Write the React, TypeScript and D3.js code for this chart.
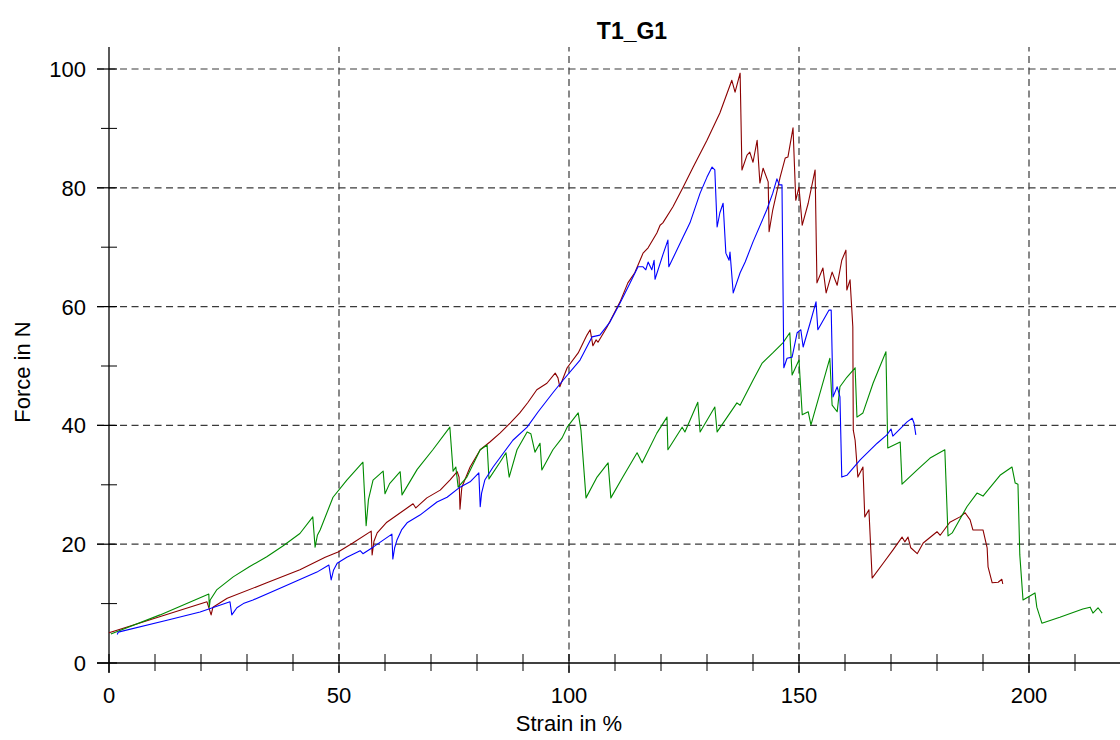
import React from "react";
import * as d3 from "d3";

// ---- data ----
const greenStrain = [0.4, 11.1, 21.7, 21.8, 22.0, 23.4, 27.0, 30.5, 34.3, 37.8, 41.5, 44.3, 44.8, 45.3, 45.9, 48.7, 51.7, 55.2, 55.9, 56.4, 57.4, 59.6, 60.0, 61.0, 63.3, 63.7, 67.0, 70.4, 74.1, 74.8, 75.4, 75.9, 77.8, 80.7, 82.2, 82.6, 85.0, 86.3, 87.0, 88.7, 90.9, 91.7, 92.6, 93.7, 94.1, 96.5, 98.5, 99.6, 102.0, 102.6, 103.7, 106.1, 108.5, 109.1, 111.7, 114.8, 115.9, 119.1, 121.3, 121.5, 124.6, 125.2, 128.0, 128.5, 131.7, 132.2, 136.5, 137.2, 140.0, 142.0, 144.3, 146.5, 148.0, 148.5, 150.0, 150.7, 152.0, 152.6, 156.7, 157.2, 158.3, 158.9, 160.4, 162.2, 162.6, 163.9, 166.1, 168.9, 169.3, 172.0, 172.4, 175.7, 178.5, 181.7, 182.4, 183.3, 186.5, 188.7, 190.0, 193.7, 196.3, 197.0, 197.6, 198.0, 198.7, 201.3, 201.7, 202.8, 206.7, 211.7, 213.3, 213.9, 215.0, 215.9];
const greenForce = [4.9, 8.1, 11.6, 9.4, 10.6, 12.3, 14.5, 16.2, 17.9, 19.7, 21.8, 24.6, 19.5, 21.5, 22.4, 27.9, 30.8, 33.8, 23.1, 27.5, 30.8, 32.3, 28.5, 30.2, 32.2, 28.3, 32.6, 35.9, 39.7, 32.3, 33.0, 29.6, 31.3, 35.9, 36.7, 31.0, 33.8, 35.4, 31.3, 35.9, 38.9, 38.6, 35.5, 37.0, 32.5, 35.9, 37.9, 39.7, 42.1, 39.2, 27.8, 31.3, 33.7, 27.8, 31.3, 35.4, 33.7, 38.7, 41.4, 35.9, 39.7, 38.9, 43.9, 38.9, 43.1, 38.9, 43.8, 43.4, 47.6, 50.5, 52.2, 53.9, 55.6, 48.5, 51.0, 41.8, 42.3, 40.1, 51.3, 43.4, 42.3, 46.5, 48.1, 49.7, 41.4, 42.1, 47.1, 52.4, 36.2, 37.2, 30.1, 32.5, 34.5, 35.9, 21.4, 21.9, 26.3, 28.6, 28.1, 31.6, 33.0, 30.3, 30.1, 18.2, 10.6, 11.8, 9.4, 6.7, 7.7, 9.1, 9.4, 8.4, 9.3, 8.4];

const redStrain = [0.0, 21.3, 22.2, 22.6, 25.7, 34.3, 41.5, 47.0, 49.8, 53.0, 57.0, 57.2, 57.6, 58.3, 60.4, 64.8, 66.1, 66.7, 69.1, 72.0, 74.1, 75.7, 76.1, 76.3, 76.7, 78.5, 80.7, 82.8, 85.0, 87.2, 89.3, 91.1, 93.0, 95.2, 97.0, 97.6, 98.0, 99.6, 102.0, 103.9, 104.6, 105.2, 105.9, 106.3, 108.3, 111.1, 112.8, 114.3, 116.1, 117.2, 119.1, 119.8, 120.4, 122.6, 124.8, 127.0, 130.0, 132.8, 135.4, 136.1, 137.2, 137.6, 138.7, 139.3, 140.0, 140.9, 141.5, 142.2, 143.3, 143.5, 144.3, 145.9, 147.0, 147.6, 148.7, 149.3, 150.0, 150.7, 152.0, 153.5, 153.9, 155.2, 155.9, 157.2, 158.3, 159.3, 160.2, 160.4, 161.1, 161.7, 161.8, 162.2, 162.8, 163.9, 164.3, 165.2, 165.9, 168.3, 170.4, 172.4, 173.0, 173.7, 174.3, 175.7, 177.0, 180.0, 180.7, 182.8, 185.0, 186.1, 187.2, 187.8, 190.0, 190.9, 191.1, 192.0, 193.3, 194.1, 194.3];
const redForce = [5.1, 10.3, 8.1, 9.4, 10.9, 13.5, 15.7, 17.8, 18.7, 20.2, 22.2, 18.2, 20.5, 21.9, 23.7, 26.1, 26.8, 26.1, 27.8, 29.1, 30.8, 32.2, 31.3, 25.9, 29.6, 33.0, 35.9, 37.2, 38.7, 40.4, 42.1, 43.9, 46.0, 47.1, 48.8, 48.0, 46.5, 49.7, 52.2, 55.2, 56.1, 53.4, 54.4, 54.0, 56.6, 60.8, 64.0, 65.7, 69.0, 69.9, 72.4, 73.7, 74.1, 76.8, 80.1, 83.5, 88.0, 92.6, 98.1, 96.1, 99.3, 83.0, 85.5, 86.0, 84.3, 88.0, 80.8, 83.3, 81.0, 72.6, 76.3, 81.8, 85.0, 85.2, 90.1, 77.9, 80.1, 73.7, 77.4, 83.0, 64.0, 66.5, 62.3, 65.8, 63.6, 67.8, 69.5, 62.8, 64.5, 56.6, 39.2, 37.5, 31.3, 33.0, 24.6, 25.8, 14.3, 16.8, 19.0, 21.2, 20.4, 21.2, 19.4, 18.4, 20.2, 22.1, 21.5, 23.7, 24.6, 25.3, 24.1, 22.4, 22.4, 19.4, 16.2, 13.5, 13.6, 14.1, 13.3];

const blueStrain = [1.8, 2.0, 12.6, 19.8, 26.3, 26.7, 27.8, 29.2, 31.3, 37.8, 45.2, 47.8, 48.3, 48.8, 49.6, 51.7, 54.6, 55.2, 57.4, 61.5, 61.7, 62.1, 62.6, 63.6, 64.8, 67.6, 71.3, 73.5, 76.3, 78.5, 80.4, 80.7, 81.0, 81.7, 83.5, 87.8, 90.9, 93.3, 96.5, 98.7, 102.4, 105.0, 106.7, 108.9, 111.1, 113.3, 115.0, 116.1, 116.7, 117.2, 118.0, 118.5, 118.7, 120.4, 121.5, 121.7, 124.8, 126.3, 128.5, 130.0, 131.1, 131.7, 132.2, 132.8, 133.5, 134.1, 134.8, 135.0, 135.7, 137.2, 138.3, 140.0, 143.0, 144.3, 145.2, 145.7, 146.3, 146.7, 147.4, 148.5, 149.6, 150.4, 150.9, 152.4, 153.7, 154.1, 156.5, 157.0, 157.4, 158.3, 158.9, 159.3, 160.4, 163.3, 167.0, 169.1, 170.0, 170.4, 173.5, 174.6, 175.0, 175.4];
const blueForce = [4.8, 5.2, 7.2, 8.6, 10.3, 8.1, 9.3, 10.0, 10.6, 12.8, 15.3, 16.5, 14.0, 15.6, 16.8, 17.8, 18.9, 18.4, 19.5, 21.7, 17.5, 19.4, 20.7, 22.4, 23.6, 24.9, 27.1, 27.9, 29.6, 30.5, 32.0, 26.3, 28.6, 30.8, 33.0, 37.5, 39.7, 42.3, 45.5, 47.6, 51.0, 54.9, 55.2, 57.4, 60.6, 64.0, 66.7, 66.7, 66.2, 67.5, 66.2, 67.8, 64.6, 68.7, 71.2, 66.7, 71.7, 74.1, 79.1, 81.8, 83.5, 83.0, 73.4, 75.8, 77.4, 69.0, 67.8, 69.2, 62.3, 65.7, 67.5, 70.9, 76.3, 79.1, 81.5, 80.5, 80.5, 49.7, 51.3, 51.5, 55.6, 56.1, 53.2, 57.2, 60.8, 56.1, 59.4, 59.4, 44.8, 46.5, 44.8, 31.3, 31.6, 34.2, 37.0, 38.4, 39.4, 38.2, 40.6, 41.2, 40.4, 38.4];

const xTicks = [0, 50, 100, 150, 200];
const xMinorTicks = [10, 20, 30, 40, 60, 70, 80, 90, 110, 120, 130, 140, 160, 170, 180, 190, 210];
const yTicks = [0, 20, 40, 60, 80, 100];
const yMinorTicks = [10, 30, 50, 70, 90];
const xGrid = [50, 100, 150, 200];
const yGrid = [20, 40, 60, 80, 100];

const series = [
  { name: "red", strain: redStrain, force: redForce, color: "#8B0000" },
  { name: "green", strain: greenStrain, force: greenForce, color: "#008B00" },
  { name: "blue", strain: blueStrain, force: blueForce, color: "#0000FF" },
];

const W = 1120;
const H = 740;
const FONT = "'Liberation Sans', Arial, Helvetica, sans-serif";

export default function App() {
  const x = d3.scaleLinear().domain([0, 200]).range([109, 1029]);
  const y = d3.scaleLinear().domain([0, 100]).range([663, 69]);
  const xLo = -2.6, xHi = 220;
  const yLo = -1.6, yHi = 103.7;

  const line = d3
    .line<[number, number]>()
    .x((d) => x(d[0]))
    .y((d) => y(d[1]));

  const gridStyle = { stroke: "#3a3a3a", strokeWidth: 1.2, strokeDasharray: "7,4.5" };

  return (
    <svg
      width={W}
      height={H}
      style={{ position: "absolute", left: 0, top: 0, background: "#fff" }}
      fontFamily={FONT}
    >
      <rect x={0} y={0} width={W} height={H} fill="#fff" />
      {/* grid */}
      {xGrid.map((v) => (
        <line key={"gx" + v} x1={x(v)} x2={x(v)} y1={y(yLo)} y2={y(yHi)} {...gridStyle} />
      ))}
      {yGrid.map((v) => (
        <line key={"gy" + v} x1={x(xLo)} x2={x(xHi)} y1={y(v)} y2={y(v)} {...gridStyle} />
      ))}
      {/* axes */}
      <line x1={x(xLo)} x2={x(xHi)} y1={y(0)} y2={y(0)} stroke="#000" strokeWidth={1.3} />
      <line x1={x(0)} x2={x(0)} y1={y(yLo)} y2={y(yHi)} stroke="#000" strokeWidth={1.3} />
      {xTicks.map((v) => (
        <line key={"xt" + v} x1={x(v)} x2={x(v)} y1={y(0) - 9} y2={y(0) + 10} stroke="#000" strokeWidth={1.2} />
      ))}
      {xMinorTicks.map((v) => (
        <line key={"xm" + v} x1={x(v)} x2={x(v)} y1={y(0) - 9} y2={y(0) + 8} stroke="#000" strokeWidth={1} />
      ))}
      {yTicks.map((v) => (
        <line key={"yt" + v} x1={x(0) - 12} x2={x(0) + 8} y1={y(v)} y2={y(v)} stroke="#000" strokeWidth={1.2} />
      ))}
      {yMinorTicks.map((v) => (
        <line key={"ym" + v} x1={x(0) - 8} x2={x(0) + 8} y1={y(v)} y2={y(v)} stroke="#000" strokeWidth={1} />
      ))}
      {/* tick labels */}
      {xTicks.map((v) => (
        <text key={"xl" + v} x={x(v)} y={703} textAnchor="middle" fontSize={22} fill="#000">
          {v}
        </text>
      ))}
      {yTicks.map((v) => (
        <text key={"yl" + v} x={86} y={y(v) + 8} textAnchor="end" fontSize={22} fill="#000">
          {v}
        </text>
      ))}
      {/* series */}
      {series.map((s) => (
        <path
          key={s.name}
          d={line(s.strain.map((v, i) => [v, s.force[i]] as [number, number])) || ""}
          fill="none"
          stroke={s.color}
          strokeWidth={1.1}
          strokeLinejoin="round"
        />
      ))}
      {/* titles */}
      <text x={632} y={39} textAnchor="middle" fontSize={23} fontWeight="bold" fill="#000">
        T1_G1
      </text>
      <text x={569} y={731} textAnchor="middle" fontSize={22} fill="#000">
        Strain in %
      </text>
      <text
        transform={`translate(30, 372) rotate(-90)`}
        textAnchor="middle"
        fontSize={22}
        fill="#000"
      >
        Force in N
      </text>
    </svg>
  );
}
